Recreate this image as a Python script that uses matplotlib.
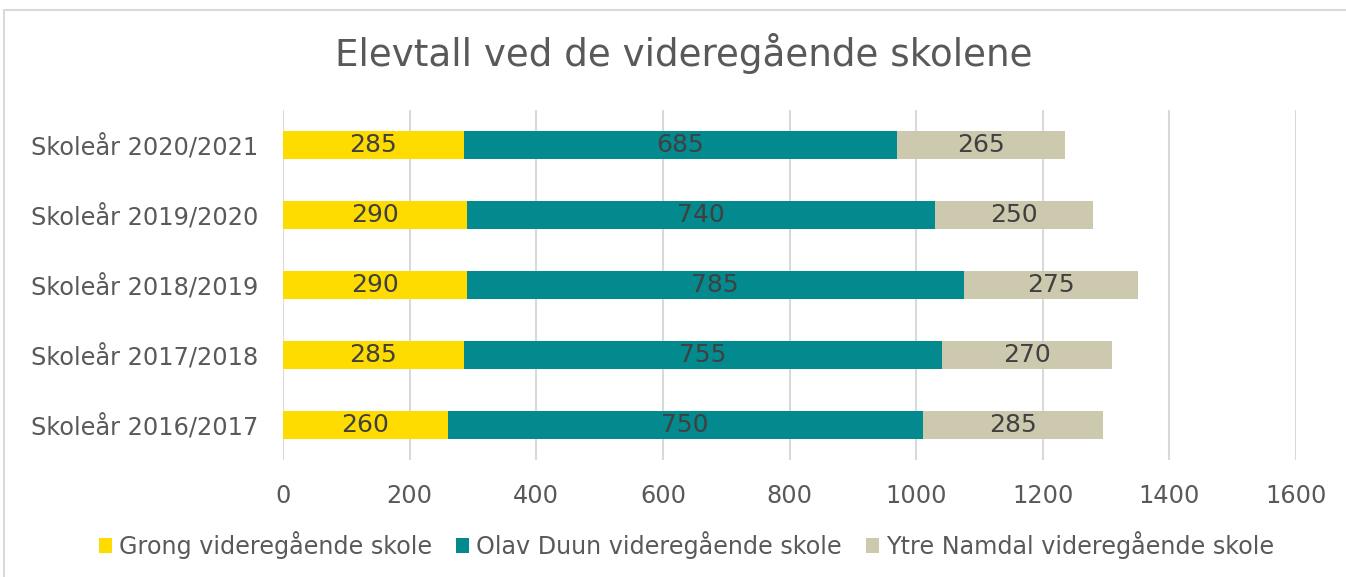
import matplotlib.pyplot as plt
from matplotlib.patches import Rectangle

categories = ["Skoleår 2016/2017", "Skoleår 2017/2018", "Skoleår 2018/2019",
              "Skoleår 2019/2020", "Skoleår 2020/2021"]
grong = [260, 285, 290, 290, 285]
olav_duun = [750, 755, 785, 740, 685]
ytre_namdal = [285, 270, 275, 250, 265]
series_names = ["Grong videregående skole", "Olav Duun videregående skole",
                "Ytre Namdal videregående skole"]
colors = ["#FFDC00", "#028A8E", "#CDC9AF"]
xticks = [0, 200, 400, 600, 800, 1000, 1200, 1400, 1600]

fig = plt.figure(figsize=(13.46, 5.77), dpi=100)
ax = fig.add_axes([0.2103, 0.2028, 0.7526, 0.6065])

# outer chart border
fig.patches.append(Rectangle((0.003, -0.05), 1.05, 1.033, transform=fig.transFigure,
                             fill=False, edgecolor="#D9D9D9", linewidth=1.5))

left = [0] * len(categories)
for values, name, color in zip([grong, olav_duun, ytre_namdal], series_names, colors):
    bars = ax.barh(range(len(categories)), values, left=left, height=0.4,
                   color=color, label=name, zorder=3)
    ax.bar_label(bars, labels=[str(v) for v in values], label_type="center",
                 fontsize=18, color="#404040")
    left = [a + b for a, b in zip(left, values)]

ax.set_xlim(0, 1600)
ax.set_ylim(-0.5, 4.5)
ax.set_xticks(xticks)
ax.set_yticks(range(len(categories)))
ax.set_yticklabels(categories)
ax.tick_params(axis="both", length=0, labelsize=17.3, labelcolor="#595959")
ax.tick_params(axis="y", pad=18)
ax.tick_params(axis="x", pad=17)
ax.grid(axis="x", color="#D9D9D9", linewidth=1.5, zorder=0)
for spine in ax.spines.values():
    spine.set_visible(False)

fig.suptitle("Elevtall ved de videregående skolene", x=0.508, y=0.942,
             fontsize=26.8, color="#595959")

fig.legend(loc="lower center", bbox_to_anchor=(0.51, -0.006), ncol=3, frameon=False,
           fontsize=17.2, labelcolor="#595959", handlelength=0.55, handleheight=0.55,
           handletextpad=0.3, columnspacing=1.0)

fig.savefig("out.png", dpi=100)
